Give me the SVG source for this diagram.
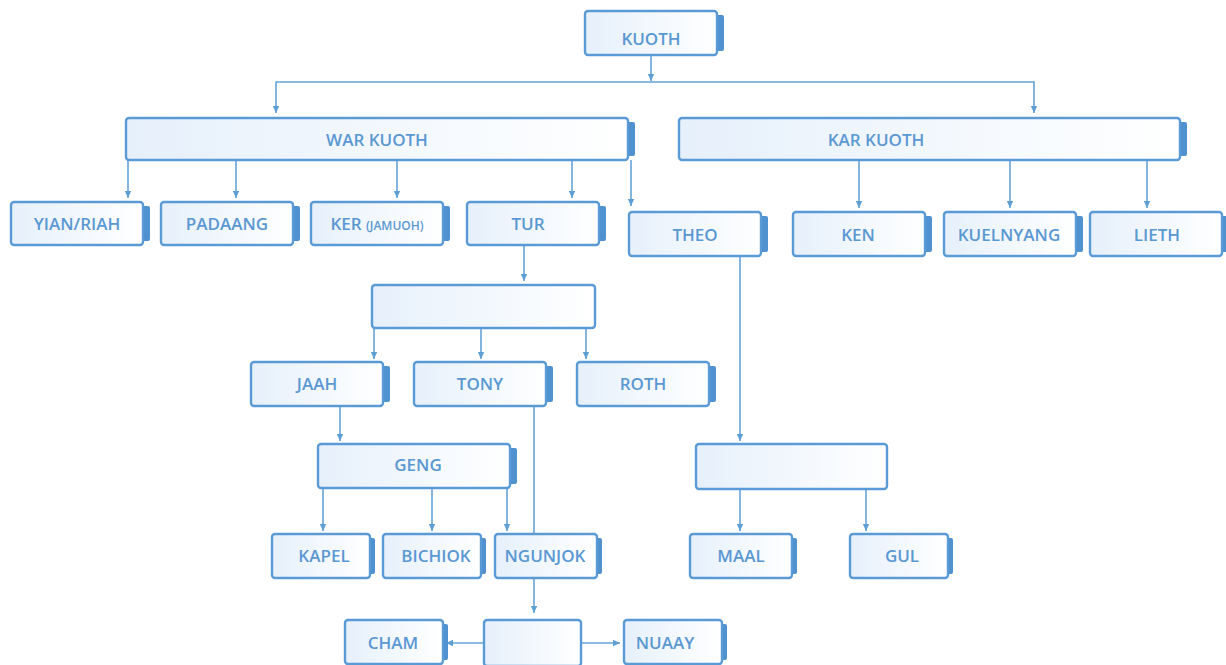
<svg xmlns="http://www.w3.org/2000/svg" width="1226" height="665" viewBox="0 0 1226 665">
<defs>
<linearGradient id="g" x1="0" y1="0" x2="1" y2="0">
<stop offset="0" stop-color="#e6f0fb"/>
<stop offset="1" stop-color="#ffffff"/>
</linearGradient>
<marker id="a" markerUnits="userSpaceOnUse" markerWidth="8" markerHeight="8" refX="7" refY="4" orient="auto">
<path d="M0,0.8 L7,4 L0,7.2 Z" fill="#5e9fd6"/>
</marker>
<style>
.box{fill:url(#g);stroke:#5b9bd5;stroke-width:2.4}
.tab{fill:#4f92cf}
.t{font-family:"Open Sans","DejaVu Sans",sans-serif;font-weight:600;font-size:17px;fill:#5a98d2;text-anchor:middle}
.s{font-size:12px}
.c{stroke:#64a3d8;stroke-width:1.6;fill:none}
.c.a{marker-end:url(#a)}
</style>
</defs>
<rect width="1226" height="665" fill="#ffffff"/>
<g id="connectors">
<path class="c a" d="M651,55 V81"/>
<path class="c a" d="M651,82 H276 V113"/>
<path class="c a" d="M651,82 H1034 V113"/>
<path class="c a" d="M128,160 V198"/>
<path class="c a" d="M236,160 V198"/>
<path class="c a" d="M397,160 V198"/>
<path class="c a" d="M572,160 V198"/>
<path class="c a" d="M631,160 V206"/>
<path class="c a" d="M859,160 V208"/>
<path class="c a" d="M1010,160 V208"/>
<path class="c a" d="M1147,160 V208"/>
<path class="c a" d="M524,245 V281"/>
<path class="c a" d="M374,328 V359"/>
<path class="c a" d="M481,328 V359"/>
<path class="c a" d="M586,328 V359"/>
<path class="c a" d="M340,406 V441"/>
<path class="c" d="M534,406 V534"/>
<path class="c a" d="M534,578 V613"/>
<path class="c a" d="M323,488 V531"/>
<path class="c a" d="M432,488 V531"/>
<path class="c a" d="M507,488 V531"/>
<path class="c a" d="M740,256 V441"/>
<path class="c a" d="M740,489 V531"/>
<path class="c a" d="M866,489 V531"/>
<path class="c a" d="M484,643 H446"/>
<path class="c a" d="M581,643 H620"/>
</g>
<g id="kuoth"><rect class="tab" x="714" y="15" width="10" height="36" rx="2"/><rect class="box" x="585" y="11" width="132" height="44" rx="3"/><text class="t" x="651" y="45">KUOTH</text></g>
<g id="war-kuoth"><rect class="tab" x="625" y="122" width="10" height="34" rx="2"/><rect class="box" x="126" y="118" width="502" height="42" rx="3"/><text class="t" x="377" y="146">WAR KUOTH</text></g>
<g id="kar-kuoth"><rect class="tab" x="1177" y="122" width="10" height="34" rx="2"/><rect class="box" x="679" y="118" width="501" height="42" rx="3"/><text class="t" x="876" y="146">KAR KUOTH</text></g>
<g id="yian-riah"><rect class="tab" x="140" y="206" width="10" height="35" rx="2"/><rect class="box" x="11" y="202" width="132" height="43" rx="3"/><text class="t" x="77" y="230">YIAN/RIAH</text></g>
<g id="padaang"><rect class="tab" x="290" y="206" width="10" height="35" rx="2"/><rect class="box" x="161" y="202" width="132" height="43" rx="3"/><text class="t" x="227" y="230">PADAANG</text></g>
<g id="ker"><rect class="tab" x="440" y="206" width="10" height="35" rx="2"/><rect class="box" x="311" y="202" width="132" height="43" rx="3"/><text class="t" x="377" y="230">KER <tspan class="s">(JAMUOH)</tspan></text></g>
<g id="tur"><rect class="tab" x="596" y="206" width="10" height="35" rx="2"/><rect class="box" x="467" y="202" width="132" height="43" rx="3"/><text class="t" x="528" y="230">TUR</text></g>
<g id="theo"><rect class="tab" x="758" y="216" width="10" height="36" rx="2"/><rect class="box" x="629" y="212" width="132" height="44" rx="3"/><text class="t" x="695" y="241">THEO</text></g>
<g id="ken"><rect class="tab" x="922" y="216" width="10" height="36" rx="2"/><rect class="box" x="793" y="212" width="132" height="44" rx="3"/><text class="t" x="858" y="241">KEN</text></g>
<g id="kuelnyang"><rect class="tab" x="1073" y="216" width="10" height="36" rx="2"/><rect class="box" x="944" y="212" width="132" height="44" rx="3"/><text class="t" x="1009" y="241">KUELNYANG</text></g>
<g id="lieth"><rect class="tab" x="1219" y="216" width="10" height="36" rx="2"/><rect class="box" x="1090" y="212" width="132" height="44" rx="3"/><text class="t" x="1157" y="241">LIETH</text></g>
<g id="blank-tur"><rect class="box" x="372" y="285" width="223" height="43" rx="3"/></g>
<g id="jaah"><rect class="tab" x="380" y="366" width="10" height="36" rx="2"/><rect class="box" x="251" y="362" width="132" height="44" rx="3"/><text class="t" x="317" y="390">JAAH</text></g>
<g id="tony"><rect class="tab" x="543" y="366" width="10" height="36" rx="2"/><rect class="box" x="414" y="362" width="132" height="44" rx="3"/><text class="t" x="480" y="390">TONY</text></g>
<g id="roth"><rect class="tab" x="706" y="366" width="10" height="36" rx="2"/><rect class="box" x="577" y="362" width="132" height="44" rx="3"/><text class="t" x="643" y="390">ROTH</text></g>
<g id="geng"><rect class="tab" x="507" y="448" width="10" height="36" rx="2"/><rect class="box" x="318" y="444" width="192" height="44" rx="3"/><text class="t" x="418" y="471">GENG</text></g>
<g id="kapel"><rect class="tab" x="367" y="538" width="8" height="36" rx="2"/><rect class="box" x="272" y="534" width="98" height="44" rx="3"/><text class="t" x="324" y="562">KAPEL</text></g>
<g id="bichiok"><rect class="tab" x="478" y="538" width="8" height="36" rx="2"/><rect class="box" x="383" y="534" width="98" height="44" rx="3"/><text class="t" x="436" y="562">BICHIOK</text></g>
<g id="ngunjok"><rect class="tab" x="594" y="538" width="8" height="36" rx="2"/><rect class="box" x="495" y="534" width="102" height="44" rx="3"/><text class="t" x="545" y="562">NGUNJOK</text></g>
<g id="blank-theo"><rect class="box" x="696" y="444" width="191" height="45" rx="3"/></g>
<g id="maal"><rect class="tab" x="789" y="538" width="8" height="36" rx="2"/><rect class="box" x="690" y="534" width="102" height="44" rx="3"/><text class="t" x="741" y="562">MAAL</text></g>
<g id="gul"><rect class="tab" x="945" y="538" width="8" height="36" rx="2"/><rect class="box" x="850" y="534" width="98" height="44" rx="3"/><text class="t" x="902" y="562">GUL</text></g>
<g id="blank-ngunjok"><rect class="box" x="484" y="620" width="97" height="46" rx="3"/></g>
<g id="cham"><rect class="tab" x="440" y="624" width="8" height="36" rx="2"/><rect class="box" x="345" y="620" width="98" height="44" rx="3"/><text class="t" x="393" y="649">CHAM</text></g>
<g id="nuaay"><rect class="tab" x="719" y="624" width="8" height="36" rx="2"/><rect class="box" x="624" y="620" width="98" height="44" rx="3"/><text class="t" x="665" y="649">NUAAY</text></g>
</svg>
